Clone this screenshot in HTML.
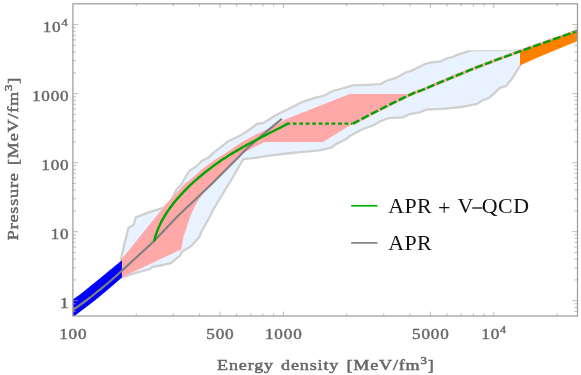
<!DOCTYPE html>
<html><head><meta charset="utf-8"><title>EoS</title>
<style>
html,body{margin:0;padding:0;background:#fff;}
svg{display:block;will-change:transform;font-family:"Liberation Serif",serif;}
</style></head><body>
<svg width="581" height="375" viewBox="0 0 581 375">
<rect width="581" height="375" fill="#fff"/>
<defs><clipPath id="c"><rect x="72.9" y="3.8" width="504.6" height="312.2"/></clipPath></defs>
<g clip-path="url(#c)">
<polygon points="121.0,259.4 123.6,247.4 126.8,234.6 128.3,228.0 133.7,224.7 135.8,217.3 148.8,212.4 163.9,207.6 171.3,199.9 176.7,189.2 181.0,185.0 183.9,180.0 189.2,171.0 196.7,166.1 202.0,160.8 208.4,157.6 214.8,151.7 221.2,146.9 227.6,141.6 239.2,136.0 247.2,131.2 257.0,124.0 263.4,122.9 273.0,117.1 280.5,112.8 287.0,109.8 301.0,102.4 316.0,97.6 324.5,95.5 332.0,91.2 340.5,89.0 352.8,85.4 366.0,84.8 380.6,84.2 387.0,80.5 395.5,78.2 402.0,74.6 406.7,72.0 411.0,71.0 424.9,64.0 431.3,62.4 440.9,61.3 447.3,58.1 452.6,57.1 457.0,54.9 462.0,53.3 469.6,50.9 520.0,50.4 520.0,65.6 515.2,73.6 510.4,80.8 505.6,86.2 499.8,87.9 495.5,92.1 489.1,97.9 482.7,100.1 477.4,103.8 461.3,107.0 442.0,108.9 426.0,109.7 419.6,112.4 410.0,114.0 402.4,117.4 388.0,118.2 380.0,121.4 372.0,125.9 364.0,128.5 357.6,131.7 350.7,135.5 344.8,139.7 342.7,140.8 336.3,143.9 331.0,147.7 319.2,150.4 303.0,151.9 287.0,153.5 271.0,155.4 255.0,157.8 243.2,159.2 231.2,180.0 212.4,211.0 209.2,218.0 202.2,230.0 199.0,237.5 191.6,245.8 181.2,252.2 180.4,255.4 170.8,263.1 162.8,265.0 152.4,266.9 150.0,269.0 134.0,273.5 121.5,277.5" fill="#e8f3ff"/>
<polyline points="469.6,50.9 520.0,50.4" fill="none" stroke="#dcdcdc" stroke-width="1.6"/>
<polyline points="121.0,259.4 123.6,247.4 126.8,234.6 128.3,228.0 133.7,224.7 135.8,217.3 148.8,212.4 163.9,207.6 171.3,199.9 176.7,189.2 181.0,185.0 183.9,180.0 189.2,171.0 196.7,166.1 202.0,160.8 208.4,157.6 214.8,151.7 221.2,146.9 227.6,141.6 239.2,136.0 247.2,131.2 257.0,124.0 263.4,122.9 273.0,117.1 280.5,112.8 287.0,109.8 301.0,102.4 316.0,97.6 324.5,95.5 332.0,91.2 340.5,89.0 352.8,85.4 366.0,84.8 380.6,84.2 387.0,80.5 395.5,78.2 402.0,74.6 406.7,72.0 411.0,71.0 424.9,64.0 431.3,62.4 440.9,61.3 447.3,58.1 452.6,57.1 457.0,54.9 462.0,53.3 469.6,50.9" fill="none" stroke="#d0d0d0" stroke-width="2.3" stroke-linejoin="round" stroke-linecap="round"/>
<polyline points="121.5,277.5 134.0,273.5 150.0,269.0 152.4,266.9 162.8,265.0 170.8,263.1 180.4,255.4 181.2,252.2 191.6,245.8 199.0,237.5 202.2,230.0 209.2,218.0 212.4,211.0 231.2,180.0 243.2,159.2 255.0,157.8 271.0,155.4 287.0,153.5 303.0,151.9 319.2,150.4 331.0,147.7 336.3,143.9 342.7,140.8 344.8,139.7 350.7,135.5 357.6,131.7 364.0,128.5 372.0,125.9 380.0,121.4 388.0,118.2 402.4,117.4 410.0,114.0 419.6,112.4 426.0,109.7 442.0,108.9 461.3,107.0 477.4,103.8 482.7,100.1 489.1,97.9 495.5,92.1 499.8,87.9 505.6,86.2 510.4,80.8 515.2,73.6 520.0,65.6" fill="none" stroke="#d0d0d0" stroke-width="2.3" stroke-linejoin="round" stroke-linecap="round"/>
<polygon points="121.0,259.9 162.0,209.3 171.2,198.8 184.0,184.6 189.7,180.0 195.2,175.2 202.0,169.3 212.7,161.3 223.4,154.4 232.0,148.7 242.0,141.9 252.7,136.2 263.4,131.0 272.0,126.7 279.0,123.2 285.0,119.5 349.6,93.9 408.8,93.9 352.0,124.3 322.9,141.9 264.5,141.9 254.0,147.3 244.5,152.4 235.6,161.0 215.6,181.0 203.8,192.8 200.6,197.1 196.3,203.5 192.1,212.0 188.9,220.0 186.5,228.0 183.6,236.2 181.2,249.3 121.5,277.5" fill="#ffa8a8"/>
<path d="M352.5,123.9 C357.1,121.5 370.4,114.3 380.0,109.5 C389.6,104.7 403.0,98.0 410.0,94.8 C417.0,91.5 418.4,91.6 422.2,90.0 C426.0,88.4 430.0,86.7 433.0,85.4 C436.0,84.1 433.7,85.0 440.0,82.4 C446.3,79.8 462.8,72.9 470.8,69.7 C478.8,66.5 484.1,64.6 488.0,63.1 C491.9,61.6 489.1,62.6 494.4,60.6 C499.7,58.6 511.1,54.5 520.0,51.3 C528.9,48.1 538.4,44.8 548.0,41.4 C557.6,38.0 572.7,32.6 577.6,30.8" fill="none" stroke="#ffadad" stroke-width="3.3"/>
<polygon points="72.1,300.0 80.0,294.4 97.9,280.0 121.9,260.2 121.9,277.4 111.0,286.9 95.5,300.0 74.5,316.0 72.1,318.0" fill="#0000ff"/>
<polygon points="520.0,51.3 548.0,41.4 577.6,30.8 577.6,41.0 543.5,55.0 532.0,59.9 520.0,65.6" fill="#ff8000"/>
<path d="M72.1,310.7 C74.6,308.9 82.4,303.4 86.9,300.0 C91.4,296.6 95.0,293.6 99.0,290.4 C103.0,287.1 107.2,283.8 111.0,280.5 C114.8,277.2 117.9,274.3 122.1,270.5 C126.3,266.7 130.7,262.6 136.0,257.7 C141.3,252.8 147.5,247.4 154.0,241.0 C160.5,234.6 168.2,225.9 175.0,219.0 C181.8,212.1 188.3,206.2 195.1,199.7 C201.9,193.2 208.8,186.6 215.6,180.0 C222.3,173.4 230.6,165.0 235.6,160.0 C240.6,155.0 241.5,153.7 245.4,150.0 C249.3,146.3 254.4,142.0 259.0,138.0 C263.6,134.0 269.2,129.3 273.0,126.1 C276.8,122.9 280.4,120.1 281.9,118.9" fill="none" stroke="#808080" stroke-width="2.2"/>
<path d="M154.0,241.5 C154.2,240.9 154.7,238.9 155.0,237.8 C155.3,236.6 155.7,235.6 156.0,234.5 C156.3,233.5 156.7,232.6 157.0,231.7 C157.3,230.8 157.7,229.9 158.0,229.1 C158.3,228.3 158.7,227.5 159.0,226.8 C159.3,226.0 159.7,225.3 160.0,224.6 C160.3,223.9 160.7,223.2 161.0,222.5 C161.3,221.9 161.7,221.2 162.0,220.6 C162.3,220.0 162.7,219.4 163.0,218.8 C163.3,218.2 163.7,217.6 164.0,217.1 C164.3,216.5 164.7,216.0 165.0,215.4 C165.3,214.9 165.7,214.3 166.0,213.8 C166.3,213.3 166.7,212.8 167.0,212.3 C167.3,211.8 167.7,211.3 168.0,210.8 C168.3,210.3 168.7,209.8 169.0,209.4 C169.3,208.9 169.3,208.9 170.0,208.0 C170.7,207.1 172.0,205.3 173.0,204.0 C174.0,202.7 175.0,201.5 176.0,200.3 C177.0,199.1 178.0,198.0 179.0,196.9 C180.0,195.7 181.0,194.6 182.0,193.6 C183.0,192.5 184.0,191.4 185.0,190.4 C186.0,189.4 187.0,188.4 188.0,187.4 C189.0,186.4 190.0,185.5 191.0,184.5 C192.0,183.6 193.0,182.6 194.0,181.7 C195.0,180.8 196.0,179.9 197.0,179.1 C198.0,178.2 199.0,177.3 200.0,176.5 C201.0,175.6 202.0,174.8 203.0,174.0 C204.0,173.2 205.0,172.4 206.0,171.6 C207.0,170.8 208.0,170.0 209.0,169.2 C210.0,168.5 211.0,167.7 212.0,167.0 C213.0,166.3 214.0,165.5 215.0,164.8 C216.0,164.1 217.0,163.4 218.0,162.7 C219.0,162.0 220.0,161.3 221.0,160.6 C222.0,159.9 223.0,159.3 224.0,158.6 C225.0,158.0 226.0,157.3 227.0,156.7 C228.0,156.0 229.0,155.4 230.0,154.8 C231.0,154.2 232.0,153.5 233.0,152.9 C234.0,152.3 235.0,151.7 236.0,151.1 C237.0,150.5 238.0,149.9 239.0,149.4 C240.0,148.8 241.0,148.2 242.0,147.6 C243.0,147.1 244.0,146.5 245.0,146.0 C246.0,145.4 247.0,144.9 248.0,144.3 C249.0,143.8 250.0,143.2 251.0,142.7 C252.0,142.1 253.0,141.6 254.0,141.1 C255.0,140.5 256.0,140.0 257.0,139.5 C258.0,139.0 259.0,138.5 260.0,137.9 C261.0,137.4 262.0,136.9 263.0,136.4 C264.0,135.9 265.0,135.4 266.0,134.9 C267.0,134.3 268.0,133.8 269.0,133.3 C270.0,132.8 271.0,132.3 272.0,131.8 C273.0,131.3 274.0,130.8 275.0,130.3 C276.0,129.8 277.0,129.3 278.0,128.8 C279.0,128.2 280.0,127.7 281.0,127.2 C282.0,126.7 283.0,126.2 284.0,125.7 C285.0,125.2 286.4,124.5 287.0,124.1 C287.6,123.8 287.7,123.8 287.8,123.7" fill="none" stroke="#00a600" stroke-width="2.4"/>
<path d="M286.4,123.6 H352" fill="none" stroke="#00a400" stroke-width="2.4" stroke-dasharray="3.7 2.76"/>
<path d="M352.5,123.9 C357.1,121.5 370.4,114.3 380.0,109.5 C389.6,104.7 403.0,98.0 410.0,94.8 C417.0,91.5 418.4,91.6 422.2,90.0 C426.0,88.4 430.0,86.7 433.0,85.4 C436.0,84.1 433.7,85.0 440.0,82.4 C446.3,79.8 462.8,72.9 470.8,69.7 C478.8,66.5 484.1,64.6 488.0,63.1 C491.9,61.6 489.1,62.6 494.4,60.6 C499.7,58.6 511.1,54.5 520.0,51.3 C528.9,48.1 538.4,44.8 548.0,41.4 C557.6,38.0 572.7,32.6 577.6,30.8" fill="none" stroke="#00a400" stroke-width="2.4" stroke-dasharray="7.95 2.42"/>
</g>
<g stroke="#a0a0a0" stroke-width="0.7" fill="none">
<line x1="219.98" y1="316.0" x2="219.98" y2="311.6"/>
<line x1="219.98" y1="3.8" x2="219.98" y2="8.2"/>
<line x1="283.33" y1="316.0" x2="283.33" y2="311.6"/>
<line x1="283.33" y1="3.8" x2="283.33" y2="8.2"/>
<line x1="430.42" y1="316.0" x2="430.42" y2="311.6"/>
<line x1="430.42" y1="3.8" x2="430.42" y2="8.2"/>
<line x1="493.76" y1="316.0" x2="493.76" y2="311.6"/>
<line x1="493.76" y1="3.8" x2="493.76" y2="8.2"/>
<line x1="136.25" y1="316.0" x2="136.25" y2="313.3"/>
<line x1="136.25" y1="3.8" x2="136.25" y2="6.5"/>
<line x1="173.30" y1="316.0" x2="173.30" y2="313.3"/>
<line x1="173.30" y1="3.8" x2="173.30" y2="6.5"/>
<line x1="199.59" y1="316.0" x2="199.59" y2="313.3"/>
<line x1="199.59" y1="3.8" x2="199.59" y2="6.5"/>
<line x1="236.65" y1="316.0" x2="236.65" y2="313.3"/>
<line x1="236.65" y1="3.8" x2="236.65" y2="6.5"/>
<line x1="250.73" y1="316.0" x2="250.73" y2="313.3"/>
<line x1="250.73" y1="3.8" x2="250.73" y2="6.5"/>
<line x1="262.94" y1="316.0" x2="262.94" y2="313.3"/>
<line x1="262.94" y1="3.8" x2="262.94" y2="6.5"/>
<line x1="273.70" y1="316.0" x2="273.70" y2="313.3"/>
<line x1="273.70" y1="3.8" x2="273.70" y2="6.5"/>
<line x1="346.68" y1="316.0" x2="346.68" y2="313.3"/>
<line x1="346.68" y1="3.8" x2="346.68" y2="6.5"/>
<line x1="383.73" y1="316.0" x2="383.73" y2="313.3"/>
<line x1="383.73" y1="3.8" x2="383.73" y2="6.5"/>
<line x1="410.02" y1="316.0" x2="410.02" y2="313.3"/>
<line x1="410.02" y1="3.8" x2="410.02" y2="6.5"/>
<line x1="447.08" y1="316.0" x2="447.08" y2="313.3"/>
<line x1="447.08" y1="3.8" x2="447.08" y2="6.5"/>
<line x1="461.17" y1="316.0" x2="461.17" y2="313.3"/>
<line x1="461.17" y1="3.8" x2="461.17" y2="6.5"/>
<line x1="473.37" y1="316.0" x2="473.37" y2="313.3"/>
<line x1="473.37" y1="3.8" x2="473.37" y2="6.5"/>
<line x1="484.13" y1="316.0" x2="484.13" y2="313.3"/>
<line x1="484.13" y1="3.8" x2="484.13" y2="6.5"/>
<line x1="557.11" y1="316.0" x2="557.11" y2="313.3"/>
<line x1="557.11" y1="3.8" x2="557.11" y2="6.5"/>
<line x1="72.9" y1="300.69" x2="78.10000000000001" y2="300.69"/>
<line x1="577.5" y1="300.69" x2="572.3" y2="300.69"/>
<line x1="72.9" y1="231.66" x2="78.10000000000001" y2="231.66"/>
<line x1="577.5" y1="231.66" x2="572.3" y2="231.66"/>
<line x1="72.9" y1="162.63" x2="78.10000000000001" y2="162.63"/>
<line x1="577.5" y1="162.63" x2="572.3" y2="162.63"/>
<line x1="72.9" y1="93.61" x2="78.10000000000001" y2="93.61"/>
<line x1="577.5" y1="93.61" x2="572.3" y2="93.61"/>
<line x1="72.9" y1="24.58" x2="78.10000000000001" y2="24.58"/>
<line x1="577.5" y1="24.58" x2="572.3" y2="24.58"/>
<line x1="72.9" y1="311.38" x2="76.0" y2="311.38"/>
<line x1="577.5" y1="311.38" x2="574.4" y2="311.38"/>
<line x1="72.9" y1="307.38" x2="76.0" y2="307.38"/>
<line x1="577.5" y1="307.38" x2="574.4" y2="307.38"/>
<line x1="72.9" y1="303.84" x2="76.0" y2="303.84"/>
<line x1="577.5" y1="303.84" x2="574.4" y2="303.84"/>
<line x1="72.9" y1="279.91" x2="76.0" y2="279.91"/>
<line x1="577.5" y1="279.91" x2="574.4" y2="279.91"/>
<line x1="72.9" y1="267.75" x2="76.0" y2="267.75"/>
<line x1="577.5" y1="267.75" x2="574.4" y2="267.75"/>
<line x1="72.9" y1="259.13" x2="76.0" y2="259.13"/>
<line x1="577.5" y1="259.13" x2="574.4" y2="259.13"/>
<line x1="72.9" y1="252.44" x2="76.0" y2="252.44"/>
<line x1="577.5" y1="252.44" x2="574.4" y2="252.44"/>
<line x1="72.9" y1="246.97" x2="76.0" y2="246.97"/>
<line x1="577.5" y1="246.97" x2="574.4" y2="246.97"/>
<line x1="72.9" y1="242.35" x2="76.0" y2="242.35"/>
<line x1="577.5" y1="242.35" x2="574.4" y2="242.35"/>
<line x1="72.9" y1="238.35" x2="76.0" y2="238.35"/>
<line x1="577.5" y1="238.35" x2="574.4" y2="238.35"/>
<line x1="72.9" y1="234.82" x2="76.0" y2="234.82"/>
<line x1="577.5" y1="234.82" x2="574.4" y2="234.82"/>
<line x1="72.9" y1="210.88" x2="76.0" y2="210.88"/>
<line x1="577.5" y1="210.88" x2="574.4" y2="210.88"/>
<line x1="72.9" y1="198.73" x2="76.0" y2="198.73"/>
<line x1="577.5" y1="198.73" x2="574.4" y2="198.73"/>
<line x1="72.9" y1="190.10" x2="76.0" y2="190.10"/>
<line x1="577.5" y1="190.10" x2="574.4" y2="190.10"/>
<line x1="72.9" y1="183.41" x2="76.0" y2="183.41"/>
<line x1="577.5" y1="183.41" x2="574.4" y2="183.41"/>
<line x1="72.9" y1="177.95" x2="76.0" y2="177.95"/>
<line x1="577.5" y1="177.95" x2="574.4" y2="177.95"/>
<line x1="72.9" y1="173.33" x2="76.0" y2="173.33"/>
<line x1="577.5" y1="173.33" x2="574.4" y2="173.33"/>
<line x1="72.9" y1="169.32" x2="76.0" y2="169.32"/>
<line x1="577.5" y1="169.32" x2="574.4" y2="169.32"/>
<line x1="72.9" y1="165.79" x2="76.0" y2="165.79"/>
<line x1="577.5" y1="165.79" x2="574.4" y2="165.79"/>
<line x1="72.9" y1="141.85" x2="76.0" y2="141.85"/>
<line x1="577.5" y1="141.85" x2="574.4" y2="141.85"/>
<line x1="72.9" y1="129.70" x2="76.0" y2="129.70"/>
<line x1="577.5" y1="129.70" x2="574.4" y2="129.70"/>
<line x1="72.9" y1="121.07" x2="76.0" y2="121.07"/>
<line x1="577.5" y1="121.07" x2="574.4" y2="121.07"/>
<line x1="72.9" y1="114.39" x2="76.0" y2="114.39"/>
<line x1="577.5" y1="114.39" x2="574.4" y2="114.39"/>
<line x1="72.9" y1="108.92" x2="76.0" y2="108.92"/>
<line x1="577.5" y1="108.92" x2="574.4" y2="108.92"/>
<line x1="72.9" y1="104.30" x2="76.0" y2="104.30"/>
<line x1="577.5" y1="104.30" x2="574.4" y2="104.30"/>
<line x1="72.9" y1="100.30" x2="76.0" y2="100.30"/>
<line x1="577.5" y1="100.30" x2="574.4" y2="100.30"/>
<line x1="72.9" y1="96.76" x2="76.0" y2="96.76"/>
<line x1="577.5" y1="96.76" x2="574.4" y2="96.76"/>
<line x1="72.9" y1="72.83" x2="76.0" y2="72.83"/>
<line x1="577.5" y1="72.83" x2="574.4" y2="72.83"/>
<line x1="72.9" y1="60.67" x2="76.0" y2="60.67"/>
<line x1="577.5" y1="60.67" x2="574.4" y2="60.67"/>
<line x1="72.9" y1="52.05" x2="76.0" y2="52.05"/>
<line x1="577.5" y1="52.05" x2="574.4" y2="52.05"/>
<line x1="72.9" y1="45.36" x2="76.0" y2="45.36"/>
<line x1="577.5" y1="45.36" x2="574.4" y2="45.36"/>
<line x1="72.9" y1="39.89" x2="76.0" y2="39.89"/>
<line x1="577.5" y1="39.89" x2="574.4" y2="39.89"/>
<line x1="72.9" y1="35.27" x2="76.0" y2="35.27"/>
<line x1="577.5" y1="35.27" x2="574.4" y2="35.27"/>
<line x1="72.9" y1="31.27" x2="76.0" y2="31.27"/>
<line x1="577.5" y1="31.27" x2="574.4" y2="31.27"/>
<line x1="72.9" y1="27.74" x2="76.0" y2="27.74"/>
<line x1="577.5" y1="27.74" x2="574.4" y2="27.74"/>
</g>
<rect x="72.9" y="3.8" width="504.6" height="312.2" fill="none" stroke="#9a9a9a" stroke-width="1.2"/>
<g font-size="14.8" fill="#666666" stroke="#666666" stroke-width="0.4" letter-spacing="0.7">
<text transform="translate(69.51,307.69) scale(1.16,1)" text-anchor="end" >1</text>
<text transform="translate(69.51,238.66) scale(1.16,1)" text-anchor="end" >10</text>
<text transform="translate(69.51,169.63) scale(1.16,1)" text-anchor="end" >100</text>
<text transform="translate(69.51,100.61) scale(1.16,1)" text-anchor="end" >1000</text>
<text transform="translate(68.41,31.58) scale(1.16,1)" text-anchor="end" >10<tspan dy="-5.6" font-size="10.5">4</tspan></text>
<text transform="translate(73.31,338.70) scale(1.16,1)" text-anchor="middle" >100</text>
<text transform="translate(220.39,338.70) scale(1.16,1)" text-anchor="middle" >500</text>
<text transform="translate(283.74,338.70) scale(1.16,1)" text-anchor="middle" >1000</text>
<text transform="translate(430.82,338.70) scale(1.16,1)" text-anchor="middle" >5000</text>
<text transform="translate(494.17,338.70) scale(1.16,1)" text-anchor="middle" >10<tspan dy="-5.6" font-size="10.5">4</tspan></text>
</g>
<g font-size="15.6" fill="#666666" stroke="#666666" stroke-width="0.5" letter-spacing="0.72" word-spacing="1.6">
<text transform="translate(325.8,369.9) scale(1.16,1)" text-anchor="middle">Energy density [MeV/fm<tspan dy="-5.5" font-size="11">3</tspan><tspan dy="5.5">]</tspan></text>
<text transform="translate(17.8,158.6) rotate(-90) scale(1.16,1)" text-anchor="middle">Pressure [MeV/fm<tspan dy="-5.5" font-size="11">3</tspan><tspan dy="5.5">]</tspan></text>
</g>
<line x1="351.2" y1="205.8" x2="377.4" y2="205.8" stroke="#00b400" stroke-width="1.7"/>
<line x1="351.2" y1="242.9" x2="377.4" y2="242.9" stroke="#808080" stroke-width="1.7"/>
<g font-size="21.9" fill="#111">
<text y="213.1"><tspan x="388.3" letter-spacing="0.3">APR</tspan><tspan x="438.1" dy="1.5">+</tspan><tspan x="457.6" dy="-1.5">V</tspan><tspan x="481.8" letter-spacing="0.5">QCD</tspan></text>
<line x1="472.3" y1="208" x2="482.5" y2="208" stroke="#111" stroke-width="1.3"/>
<text x="388.3" y="250.2" letter-spacing="0.3">APR</text>
</g>
</svg>
</body></html>
